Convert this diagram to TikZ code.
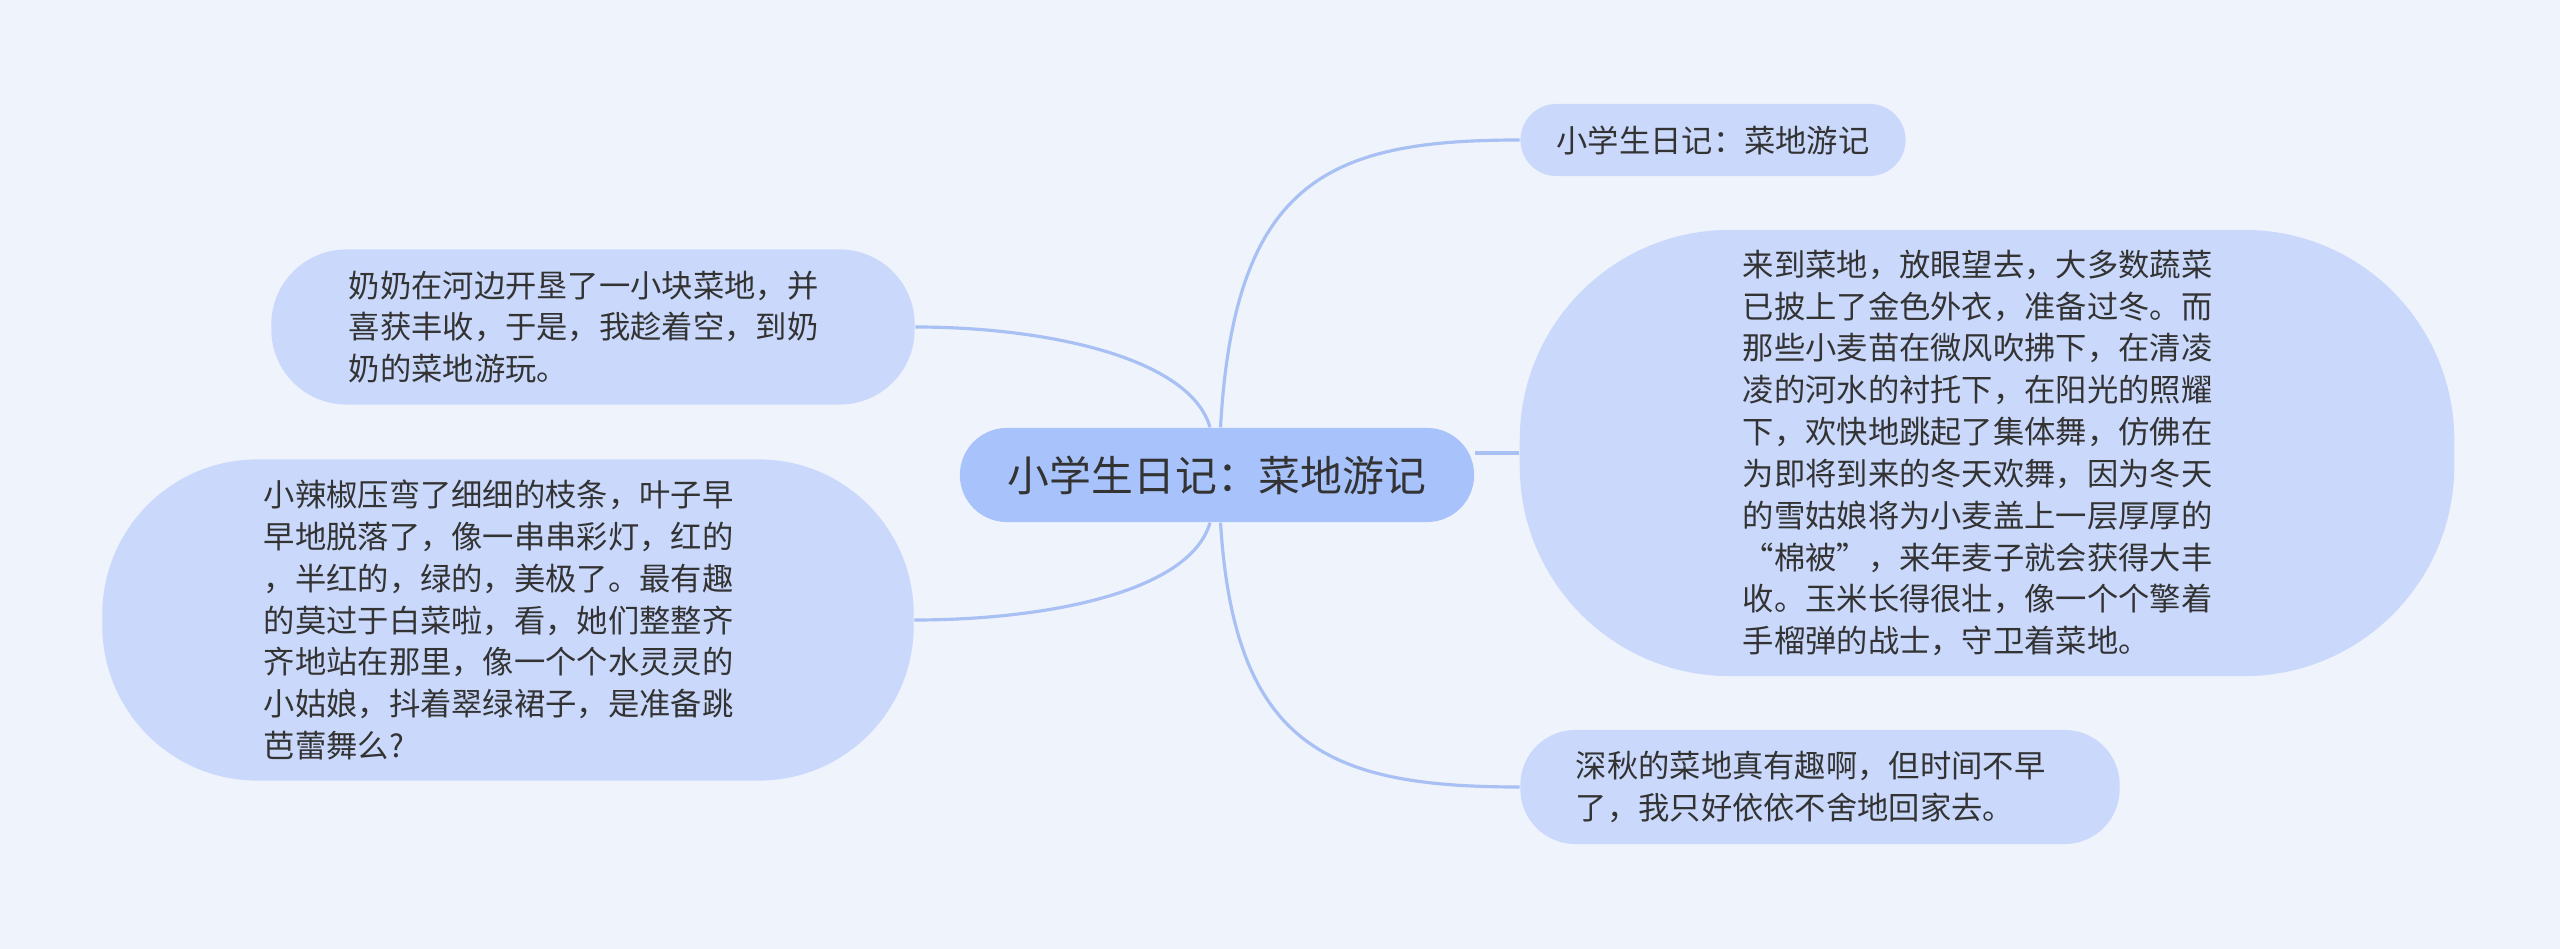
\documentclass[tikz,border=0pt]{standalone}
\usepackage{fontspec}
\setmainfont{Noto Sans CJK SC}
\definecolor{bgcol}{HTML}{EEF3FC}
\definecolor{rootblue}{HTML}{A8C2FB}
\definecolor{leafblue}{HTML}{CAD9FB}
\definecolor{linkblue}{HTML}{A8C0F4}
\definecolor{inkgray}{HTML}{333333}

\begin{document}
\begin{tikzpicture}
  [x=0.01cm,y=-0.01cm,
   every node/.style={fill=leafblue,text=inkgray,inner sep=0pt,align=left},
   topic/.style={fill=rootblue,font=\fontsize{11.9pt}{14pt}\selectfont},
   leaf/.style={font=\fontsize{8.9pt}{11.9pt}\selectfont},
   para/.style={leaf,text width=4.88cm}]
  \fill[bgcol] (0,0) rectangle (2560,949);
  \useasboundingbox (0,0) rectangle (2560,949);
  \node[topic,minimum width=5.14cm,minimum height=0.94cm,rounded corners=0.47cm] (root) at (1217,475) {小学生日记：菜地游记};
  \node[leaf,minimum width=3.85cm,minimum height=0.72cm,rounded corners=0.36cm] (title) at (1713,140) {小学生日记：菜地游记};
  \node[para,minimum width=9.34cm,minimum height=4.46cm,rounded corners=2.1cm] (field) at (1987,453)
    {来到菜地，放眼望去，大多数蔬菜\\已披上了金色外衣，准备过冬。而\\那些小麦苗在微风吹拂下，在清凌\\凌的河水的衬托下，在阳光的照耀\\下，欢快地跳起了集体舞，仿佛在\\为即将到来的冬天欢舞，因为冬天\\的雪姑娘将为小麦盖上一层厚厚的\\“棉被”，来年麦子就会获得大丰\\收。玉米长得很壮，像一个个擎着\\手榴弹的战士，守卫着菜地。};
  \node[para,minimum width=5.99cm,minimum height=1.14cm,rounded corners=0.55cm] (ending) at (1820,787)
    {深秋的菜地真有趣啊，但时间不早\\了，我只好依依不舍地回家去。};
  \node[para,minimum width=6.43cm,minimum height=1.55cm,rounded corners=0.75cm] (intro) at (593,327)
    {奶奶在河边开垦了一小块菜地，并\\喜获丰收，于是，我趁着空，到奶\\奶的菜地游玩。};
  \node[para,minimum width=8.11cm,minimum height=3.21cm,rounded corners=1.55cm] (pepper) at (508,620)
    {小辣椒压弯了细细的枝条，叶子早\\早地脱落了，像一串串彩灯，红的\\，半红的，绿的，美极了。最有趣\\的莫过于白菜啦，看，她们整整齐\\齐地站在那里，像一个个水灵灵的\\小姑娘，抖着翠绿裙子，是准备跳\\芭蕾舞么?};
  \begin{scope}[draw=linkblue, line width=0.9pt]
    \draw ([xshift=1pt]root.north) .. controls +(14,-248) and +(-190,0) .. (title.west);
    \draw ([xshift=-2pt]root.north) .. controls +(-20,-70) and +(130,0) .. (intro.east);
    \draw ([xshift=-2pt]root.south) .. controls +(-20,70) and +(130,0) .. (pepper.east);
    \draw ([xshift=1pt]root.south) .. controls +(14,225) and +(-190,0) .. (ending.west);
    \draw (field.west) -- (field.west -| root.east);
  \end{scope}
\end{tikzpicture}
\end{document}
